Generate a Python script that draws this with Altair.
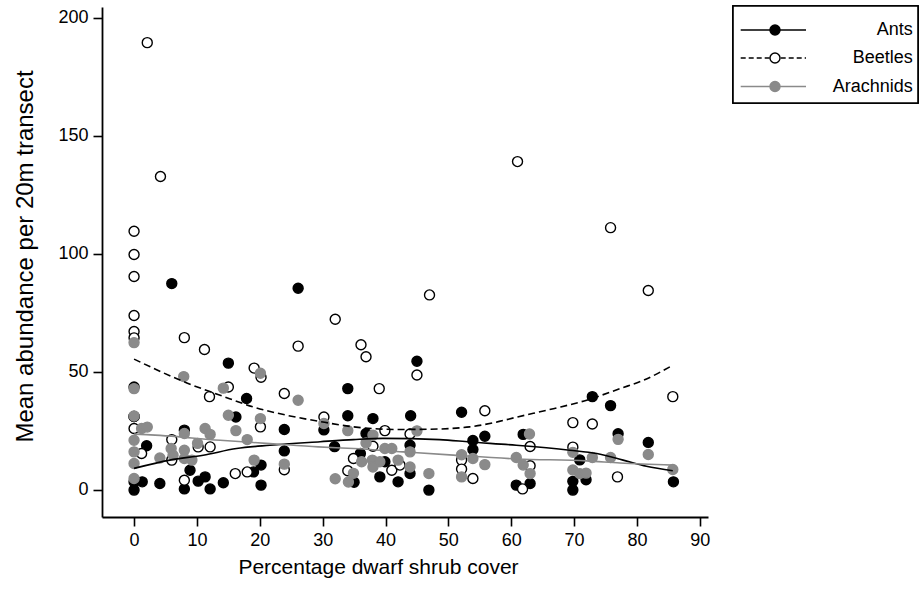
import altair as alt
import pandas as pd

# ---------------- data ----------------
ants_x = [6, 26.1, 15, 45, 0, 34, 17.9, 72.9, 75.8, 52.1, 34, 38, 44, 16.2, 0,
          30.2, 23.9, 8, 36.9, 61.9, 77, 55.8, 53.9, 81.8, 2, 31.9, 43.9, 23.9,
          53.9, 36, 20.2, 39.9, 70.9, 8.9, 11.3, 10.2, 39.1, 43.9, 0, 1.3, 4.1,
          8, 12.1, 14.2, 19, 20.2, 35, 42, 46.9, 60.8, 63, 69.8, 69.8, 71.9,
          85.8, 0]
ants_y = [87.3, 85.3, 53.6, 54.4, 43.5, 42.8, 38.6, 39.4, 35.6, 32.8, 31.3, 30.1,
          31.3, 30.8, 31, 25.3, 25.5, 25.2, 23.8, 23.4, 23.7, 22.6, 20.8, 20,
          18.6, 18.2, 18.8, 16.4, 17, 15.3, 10.4, 11.8, 12.6, 8.2, 5.4, 3.6, 5.4,
          6.8, 3.3, 3.3, 2.6, 0.3, 0.3, 2.9, 7.5, 1.9, 3.1, 3.3, -0.2, 1.9, 2.6,
          3.5, -0.2, 4.2, 3.3, -0.2]

beetles_x = [2.1, 4.2, 0, 0, 0, 0, 0, 0, 8, 11.2, 26.1, 32, 36.1, 36.9, 47, 61,
             75.8, 81.8, 19.1, 20.2, 45, 15, 39, 23.9, 12, 85.7, 30.2, 55.8,
             69.8, 72.9, 0, 0, 20.1, 39.9, 43.9, 6, 63, 69.8, 38, 1.2, 10.2,
             12.1, 6, 34.9, 52.1, 23.9, 34, 41, 42.3, 63, 52.1, 16.1, 18, 8,
             53.9, 76.9, 61.8]
beetles_y = [189.4, 132.7, 109.5, 99.6, 90.3, 73.8, 67, 64.3, 64.4, 59.4, 60.8,
             72.2, 61.4, 56.3, 82.5, 139, 111, 84.4, 51.5, 47.6, 48.6, 43.5,
             42.8, 40.7, 39.4, 39.4, 30.8, 33.4, 28.4, 27.8, 31, 25.9, 26.6, 25,
             23.6, 21.2, 18.3, 18, 18.4, 15.3, 18.1, 18.1, 12.5, 13.2, 12.5, 8.4,
             8, 8.2, 10.4, 10.1, 8.7, 6.8, 7.5, 4, 4.7, 5.4, 0.3]

arach_x = [0, 7.9, 20.1, 0, 14.2, 26.1, 30.2, 0, 1.2, 2.1, 15, 20.1, 11.3, 12.1,
           8, 16.2, 18, 34, 38, 45, 62.9, 0, 0, 0, 0, 5.9, 6.2, 4.1, 8, 8, 9.2,
           10.1, 19.1, 23.9, 36.9, 39.9, 41, 43.9, 36.2, 37.9, 39.1, 38, 42,
           43.9, 32, 34.1, 34.9, 46.9, 52.1, 53.9, 55.8, 52.1, 60.8, 61.9, 63,
           69.8, 72.9, 75.8, 69.8, 70.9, 71.9, 77, 81.8, 85.7]
arach_y = [62.3, 47.9, 49.3, 42.8, 43, 37.9, 28, 31.2, 25.9, 26.5, 31.5, 30.1,
           25.9, 23.4, 23.8, 25, 21.2, 25, 23.1, 24.9, 23.6, 20.9, 16, 11.1, 4.7,
           17.4, 14.6, 13.4, 16.7, 13.2, 12.5, 19.6, 12.5, 10.8, 19.8, 17.4,
           17.4, 16, 11.8, 12.5, 11.8, 9.6, 12.5, 9.6, 4.6, 3.2, 6.9, 6.8, 14.8,
           13.2, 10.6, 5.4, 13.6, 10.4, 6.8, 15.8, 13.6, 13.6, 8.3, 6.8, 7, 21.3,
           14.9, 8.5]

# smoothed (lowess) curves
ants_fit_x = [0, 5.7, 11, 16.3, 21.6, 29.6, 34.9, 39.6, 48.6, 53.4, 60.8, 69.3,
              73.6, 77.8, 81.5, 85.7]
ants_fit_y = [9, 12.5, 14.6, 17.4, 18.8, 20.3, 21.2, 21.7, 21.2, 20.2, 18.8,
              16.7, 15.3, 12.5, 9.9, 8]
beetles_fit_x = [0, 8.4, 13.7, 19, 24.3, 29.3, 34.9, 41.8, 47.1, 53.4, 57.1,
                 61, 66.7, 72, 77.3, 81, 85.7]
beetles_fit_y = [55.3, 45.2, 40, 35, 31.5, 29, 26.6, 25.5, 25.6, 26.6, 28.3,
                 30.8, 34.3, 37.9, 42.8, 46.3, 52.7]
arach_fit_x = [0, 2, 13.7, 21.6, 29.3, 34.9, 42.8, 50.8, 61, 72, 77.3, 85.7]
arach_fit_y = [23.5, 23.3, 20.9, 19.5, 18.1, 17.4, 16, 14.6, 13, 12.2, 11.3, 10.4]

series = ["Ants", "Beetles", "Arachnids"]

FONT = "Liberation Sans"
GREY = "#8a8a8a"

xs = alt.Scale(domain=[-5.1, 91.3], nice=False, zero=False)
ys = alt.Scale(domain=[-11.6, 204.5], nice=False, zero=False)

X = alt.X("x:Q", scale=xs, axis=alt.Axis(
    values=list(range(0, 91, 10)), title="Percentage dwarf shrub cover",
    titleX=276, titleY=50, titleBaseline="middle", titleAnchor="start",
    titleAlign="center", titleFontSize=21, labelPadding=5))
Y = alt.Y("y:Q", scale=ys, axis=alt.Axis(
    values=[0, 50, 100, 150, 200], title="Mean abundance per 20m transect",
    titleX=-77, titleY=249, titleBaseline="middle", titleAlign="center",
    titleAngle=-90, titleAnchor="start", titleFontSize=24, labelPadding=5))


def pts(xv, yv, fill, stroke):
    df = pd.DataFrame({"x": xv, "y": yv})
    return alt.Chart(df).mark_point(
        shape="circle", filled=False, fill=fill, stroke=stroke,
        strokeWidth=1.4, size=100, opacity=1, fillOpacity=1
    ).encode(x=X, y=Y)


def fit(xv, yv, color, dash=None):
    df = pd.DataFrame({"x": xv, "y": yv})
    kw = dict(color=color, strokeWidth=1.6, interpolate="monotone")
    if dash:
        kw["strokeDash"] = dash
    return alt.Chart(df).mark_line(**kw).encode(x=X, y=Y)


layers = [
    pts(ants_x, ants_y, "black", "black"),
    pts(beetles_x, beetles_y, "white", "black"),
    pts(arach_x, arach_y, GREY, GREY),
    fit(ants_fit_x, ants_fit_y, "black"),
    fit(beetles_fit_x, beetles_fit_y, "black", [7, 4]),
    fit(arach_fit_x, arach_fit_y, GREY),
]

# legend (drawn as marks outside the plot area)
leg_df = pd.DataFrame({"s": series})
box = alt.Chart(leg_df).mark_rect(fill="white", stroke="black", strokeWidth=1.6).encode(
    x=alt.value(631), x2=alt.value(816), y=alt.value(-1), y2=alt.value(96))
layers.insert(0, box)
row_y = [23, 51, 79.5]
styles = [("black", "black", None), ("white", "black", [5, 3]), (GREY, GREY, None)]
lcolors = ["black", "black", GREY]
for i, name in enumerate(series):
    fill, stroke, dash = styles[i]
    sub = alt.Chart(pd.DataFrame({"s": [name]}))
    rkw = dict(color=lcolors[i], strokeWidth=1.6)
    if dash:
        rkw["strokeDash"] = dash
    layers.append(sub.mark_rule(**rkw).encode(
        x=alt.value(638.7), x2=alt.value(704), y=alt.value(row_y[i])))
    layers.append(sub.mark_point(shape="circle", filled=False, fill=fill, stroke=stroke,
                                 strokeWidth=1.4, size=100, opacity=1).encode(
        x=alt.value(673), y=alt.value(row_y[i])))
    layers.append(sub.mark_text(align="right", baseline="middle", font=FONT,
                                fontSize=18, color="black").encode(
        x=alt.value(810.7), y=alt.value(row_y[i]), text="s:N"))

chart = alt.layer(*layers).properties(
    width=606, height=510,
    background="white",
    autosize=alt.AutoSizeParams(type="none"),
    padding={"left": 102, "top": 7, "right": 216, "bottom": 73},
).configure_view(stroke=None).configure_axis(
    grid=False, domainColor="black", domainWidth=1.8, tickColor="black",
    tickWidth=1.6, tickSize=9, labelFont=FONT, labelFontSize=18,
    labelColor="black", titleFont=FONT, titleFontSize=20,
    titleFontWeight="normal", titleColor="black"
)

chart.save("out.html", embed_options={"renderer": "svg", "actions": False})
